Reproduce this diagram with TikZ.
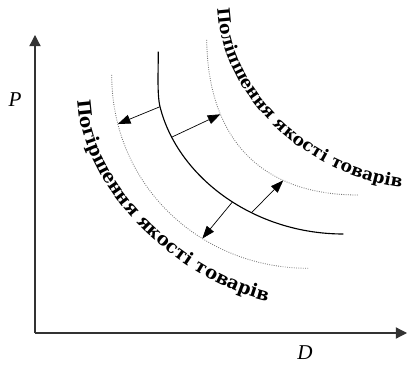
\documentclass[tikz,border=0pt]{standalone}
\usepackage{fontspec}
\newfontfamily\curvefont{DejaVu Serif}
\newfontfamily\axisfont{Liberation Serif}
\newcommand{\lowertext}{\curvefont\bfseries\fontsize{13}{15}\selectfont}
\newcommand{\uppertext}{\curvefont\bfseries\fontsize{12.2}{15}\selectfont}
\usetikzlibrary{arrows.meta,decorations.text}

\begin{document}
\begin{tikzpicture}[x=1cm,y=1cm,
  demand/.style={line width=0.8pt},
  shifted/.style={black!55,densely dotted,line width=0.6pt},
  shiftarr/.style={line width=0.5pt,-{Triangle[length=9pt,width=6.5pt]}},
  axisline/.style={black!80,line width=0.9pt,-{Triangle[length=8pt,width=8pt]}},
  axislabel/.style={font=\axisfont\itshape\fontsize{15}{17}\selectfont}]
\useasboundingbox (-0.875,-0.775) rectangle (9.325,8.325);
\coordinate (o) at (0,0);\coordinate (ytop) at (0,7.45);\coordinate (xend) at (9.3,0);
\draw[axisline] (o)--(ytop);\draw[axisline] (o)--(xend);
\node[axislabel] (p) at (-0.5,5.825) {P};\node[axislabel] (d) at (6.75,-0.5) {D};
\coordinate (m1) at (3.125,5.6575);
\draw[demand] (3.0825,7.0325) .. controls (3.0825,6.575) and (3.05,5.9575) .. (m1)
  .. controls (3.5625,3.9075) and (5.4575,2.475) .. (7.7075,2.475)
  coordinate[pos=0.15] (m2) coordinate[pos=0.54] (m3) coordinate[pos=0.63] (m4);
\draw[shifted] (1.9175,6.45) .. controls (1.9175,3.7) and (4.125,1.6175) .. (6.8325,1.6175)
  coordinate[pos=0.155] (l1) coordinate[pos=0.64] (l2);
\draw[shifted] (4.2925,7.325) .. controls (4.325,4.825) and (5.675,3.45) .. (8.075,3.45)
  coordinate[pos=0.285] (r1) coordinate[pos=0.7] (r2);
\draw[shiftarr] (m1)--(l1);\draw[shiftarr] (m2)--(r1);
\draw[shiftarr] (m3)--(l2);\draw[shiftarr] (m4)--(r2);
\path[decorate,decoration={text along path,text={|\lowertext|Погіршення якості товарів}}]
  (1.075,5.825) .. controls (1.175,3.325) and (4.0,1.025) .. (6.25,0.7);
\path[decorate,decoration={text along path,text={|\uppertext|Поліпшення якості товарів}}]
  (4.575,8.125) .. controls (4.675,5.825) and (6.875,3.775) .. (9.625,3.575);
\end{tikzpicture}
\end{document}
